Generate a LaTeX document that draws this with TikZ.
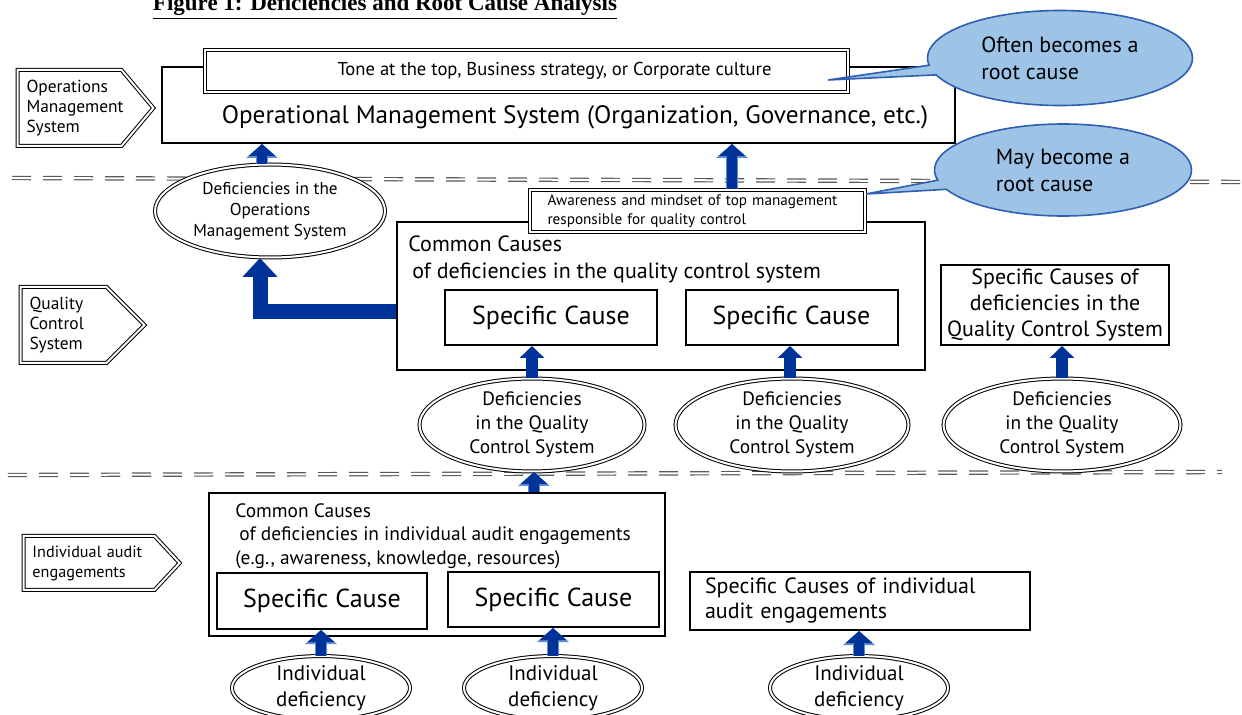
\documentclass[tikz,border=0pt]{standalone}
\usepackage{fontspec}
\setmainfont{PT Sans}
\newfontfamily\titlefont{Liberation Serif}
\usetikzlibrary{arrows.meta,positioning,calc,shapes.geometric,shapes.symbols,shapes.callouts}
\definecolor{arrblue}{HTML}{003399}
\definecolor{arredge}{HTML}{5B8BD0}
\definecolor{callfill}{HTML}{9DC3E6}
\definecolor{calledge}{HTML}{2F5FB0}
\definecolor{sepgray}{HTML}{5A5A5A}
\tikzset{
  Tag/.style={shape=signal, signal to=east, draw, double, double distance=1pt,
              line width=0.5pt, align=left, inner sep=2pt, inner xsep=4.5pt,
              anchor=west},
  Bbox/.style={draw, line width=1pt, inner sep=0pt},
  Dbox/.style={draw, double, double distance=1pt, line width=0.5pt, fill=white,
               inner sep=0pt},
  Sbox/.style={draw, line width=1pt, fill=white, inner sep=0pt,
               font=\fontsize{13}{15}\selectfont,
               minimum width=106pt, minimum height=27.5pt},
  Dell/.style={ellipse, draw, double, double distance=1pt, line width=0.5pt,
               fill=white, align=center, inner sep=0pt},
  Call/.style={ellipse callout, draw=calledge, line width=0.8pt, fill=callfill,
               align=left, inner sep=0pt, callout pointer arc=12,
               font=\fontsize{11}{13.5}\selectfont},
  Sep/.style={draw=sepgray, double, double distance=1pt, line width=0.6pt,
              dash pattern=on 9.5pt off 6pt},
  Uarr/.style={draw=arrblue, line width=6pt, -{Triangle[length=6pt, width=12pt]}},
  Oarr/.style={draw=arrblue, line width=5pt, -{Triangle[length=6pt, width=13pt]},
               preaction={draw=arredge, line width=6.4pt,
                          -{Triangle[length=7pt, width=15.5pt]}}}
}

\begin{document}
\begin{tikzpicture}[x=0.5pt, y=-0.5pt]
  \useasboundingbox (0,0) rectangle (1242,715);
  \fill[white] (0,0) rectangle (1242,715);

  \node[font=\titlefont\bfseries\fontsize{11.5}{13}\selectfont, anchor=base] (title)
    at (385,11) {\underline{Figure 1: Deficiencies and Root Cause Analysis}};

  % level separators
  \coordinate (s1a) at (12,178);  \coordinate (s1b) at (1242,182);
  \coordinate (s2a) at (8,475);   \coordinate (s2b) at (1222,472);
  \draw[Sep] (s1a) -- (s1b);
  \draw[Sep] (s2a) -- (s2b);

  % level tags
  \node[Tag, font=\fontsize{8.7}{10}\selectfont, text width=43pt, minimum height=38pt,
        signal pointer angle=100] (tagOMS) at (17,108) {Operations\\Management\\System};
  \node[Tag, font=\fontsize{8.7}{10}\selectfont, text width=34pt, minimum height=38pt,
        signal pointer angle=90] (tagQC) at (20,325) {Quality\\Control\\System};
  \node[Tag, font=\fontsize{8.1}{10}\selectfont, text width=56.5pt, minimum height=27pt,
        signal pointer angle=94] (tagAud) at (23,563) {Individual audit\\engagements};

  % operations management level
  \node[Bbox, minimum width=396.5pt, minimum height=38pt] (oms) at (558.5,105) {};
  \node[font=\fontsize{12.6}{15}\selectfont] (omstext) at (575,117)
    {Operational Management System (Organization, Governance, etc.)};
  \node[Dbox, minimum width=321.5pt, minimum height=21pt,
        font=\fontsize{9.3}{11}\selectfont] (tone) at (526.5,71)
    {\hspace*{28pt}Tone at the top, Business strategy, or Corporate culture};
  \coordinate (tip1) at (828,80);
  \node[Call, minimum width=132.5pt, minimum height=47.5pt,
        callout absolute pointer={(tip1)}] (call1) at (1060,58)
    {Often becomes a\\root cause};

  \node[Dell, minimum width=115pt, minimum height=46.5pt,
        font=\fontsize{8.6}{10.5}\selectfont] (omsdef) at (270,211)
    {Deficiencies in the\\Operations\\Management System};

  % quality control level
  \node[Bbox, minimum width=264pt, minimum height=74pt] (qc) at (661,296) {};
  \node[anchor=north west, align=left, inner sep=0pt,
        font=\fontsize{11}{13.5}\selectfont] (qctext) at (408,235)
    {Common Causes\\\hspace*{2pt}of deficiencies in the quality control system};
  \node[Dbox, minimum width=167.5pt, minimum height=21pt, align=left, inner xsep=8.5pt,
        font=\fontsize{7.6}{9.5}\selectfont, text width=150pt] (aware) at (697.5,211)
    {Awareness and mindset of top management\\responsible for quality control};
  \coordinate (tip2) at (866,194);
  \node[Call, minimum width=128.5pt, minimum height=46pt,
        callout absolute pointer={(tip2)}] (call2) at (1063,170)
    {May become a\\root cause};

  \node[Sbox] (sc1) at (551,317.5) {Specific Cause};
  \node[Sbox] (sc2) at (791.5,317.5) {Specific Cause};
  \node[Bbox, fill=white, minimum width=114pt, minimum height=40pt, align=center,
        font=\fontsize{11}{13}\selectfont] (qcspec) at (1055,305)
    {Specific Causes of\\deficiencies in the\\Quality Control System};

  \node[Dell, minimum width=112.5pt, minimum height=46pt,
        font=\fontsize{9.7}{12}\selectfont] (qd1) at (532,425)
    {Deficiencies\\in the Quality\\Control System};
  \node[Dell, minimum width=116.5pt, minimum height=46pt,
        font=\fontsize{9.7}{12}\selectfont] (qd2) at (792,425)
    {Deficiencies\\in the Quality\\Control System};
  \node[Dell, minimum width=118.5pt, minimum height=46pt,
        font=\fontsize{9.7}{12}\selectfont] (qd3) at (1062,425)
    {Deficiencies\\in the Quality\\Control System};

  % individual audit engagement level
  \node[Bbox, minimum width=228pt, minimum height=71.5pt] (aud) at (437,564.5) {};
  \node[anchor=north west, align=left, inner sep=0pt,
        font=\fontsize{9.7}{11.75}\selectfont] (audtext) at (235,503)
    {Common Causes\\\hspace*{2pt}of deficiencies in individual audit engagements\\(e.g., awareness, knowledge, resources)};
  \node[Sbox, minimum width=105pt, minimum height=28pt] (as1) at (322,601) {Specific Cause};
  \node[Sbox, minimum width=105.5pt] (as2) at (553.5,599.5) {Specific Cause};
  \node[Bbox, minimum width=170pt, minimum height=29pt, align=left, inner xsep=7.5pt,
        text width=155pt, font=\fontsize{11}{12.5}\selectfont] (aspec) at (860,601)
    {Specific Causes of individual\\audit engagements};

  \node[Dell, minimum width=89pt, minimum height=30.5pt,
        font=\fontsize{10.5}{13}\selectfont] (id1) at (321,688) {Individual\\deficiency};
  \node[Dell, minimum width=89pt, minimum height=30.5pt,
        font=\fontsize{10.5}{13}\selectfont] (id2) at (553,688) {Individual\\deficiency};
  \node[Dell, minimum width=89pt, minimum height=30.5pt,
        font=\fontsize{10.5}{13}\selectfont] (id3) at (859,688) {Individual\\deficiency};

  % block arrows
  \coordinate (a1b) at ([xshift=-4pt]omsdef.north);
  \coordinate (a2b) at ([xshift=17.25pt]aware.north);
  \draw[Oarr] (a1b) -- (a1b |- oms.south);
  \draw[Oarr] (a2b) -- (a2b |- oms.south);
  \draw[Uarr, line width=7.5pt, line join=miter, -{Triangle[length=9.5pt, width=17pt]}]
    ([yshift=-8pt]qc.west) -| ([xshift=-5pt]omsdef.south);
  \draw[Uarr] (qd1.north) -- (qd1.north |- sc1.south);
  \draw[Uarr] ([xshift=-1pt]qd2.north) -- ([xshift=-1pt]qd2.north |- sc2.south);
  \draw[Uarr] (qd3.north) -- (qd3.north |- qcspec.south);
  \draw[Oarr] ([xshift=1pt]qd1.south |- aud.north) -- ([xshift=1pt]qd1.south);
  \draw[Oarr] (id1.north) -- (id1.north |- as1.south);
  \draw[Oarr] (id2.north) -- (id2.north |- as2.south);
  \draw[Oarr] (id3.north) -- (id3.north |- aspec.south);
\end{tikzpicture}
\end{document}
